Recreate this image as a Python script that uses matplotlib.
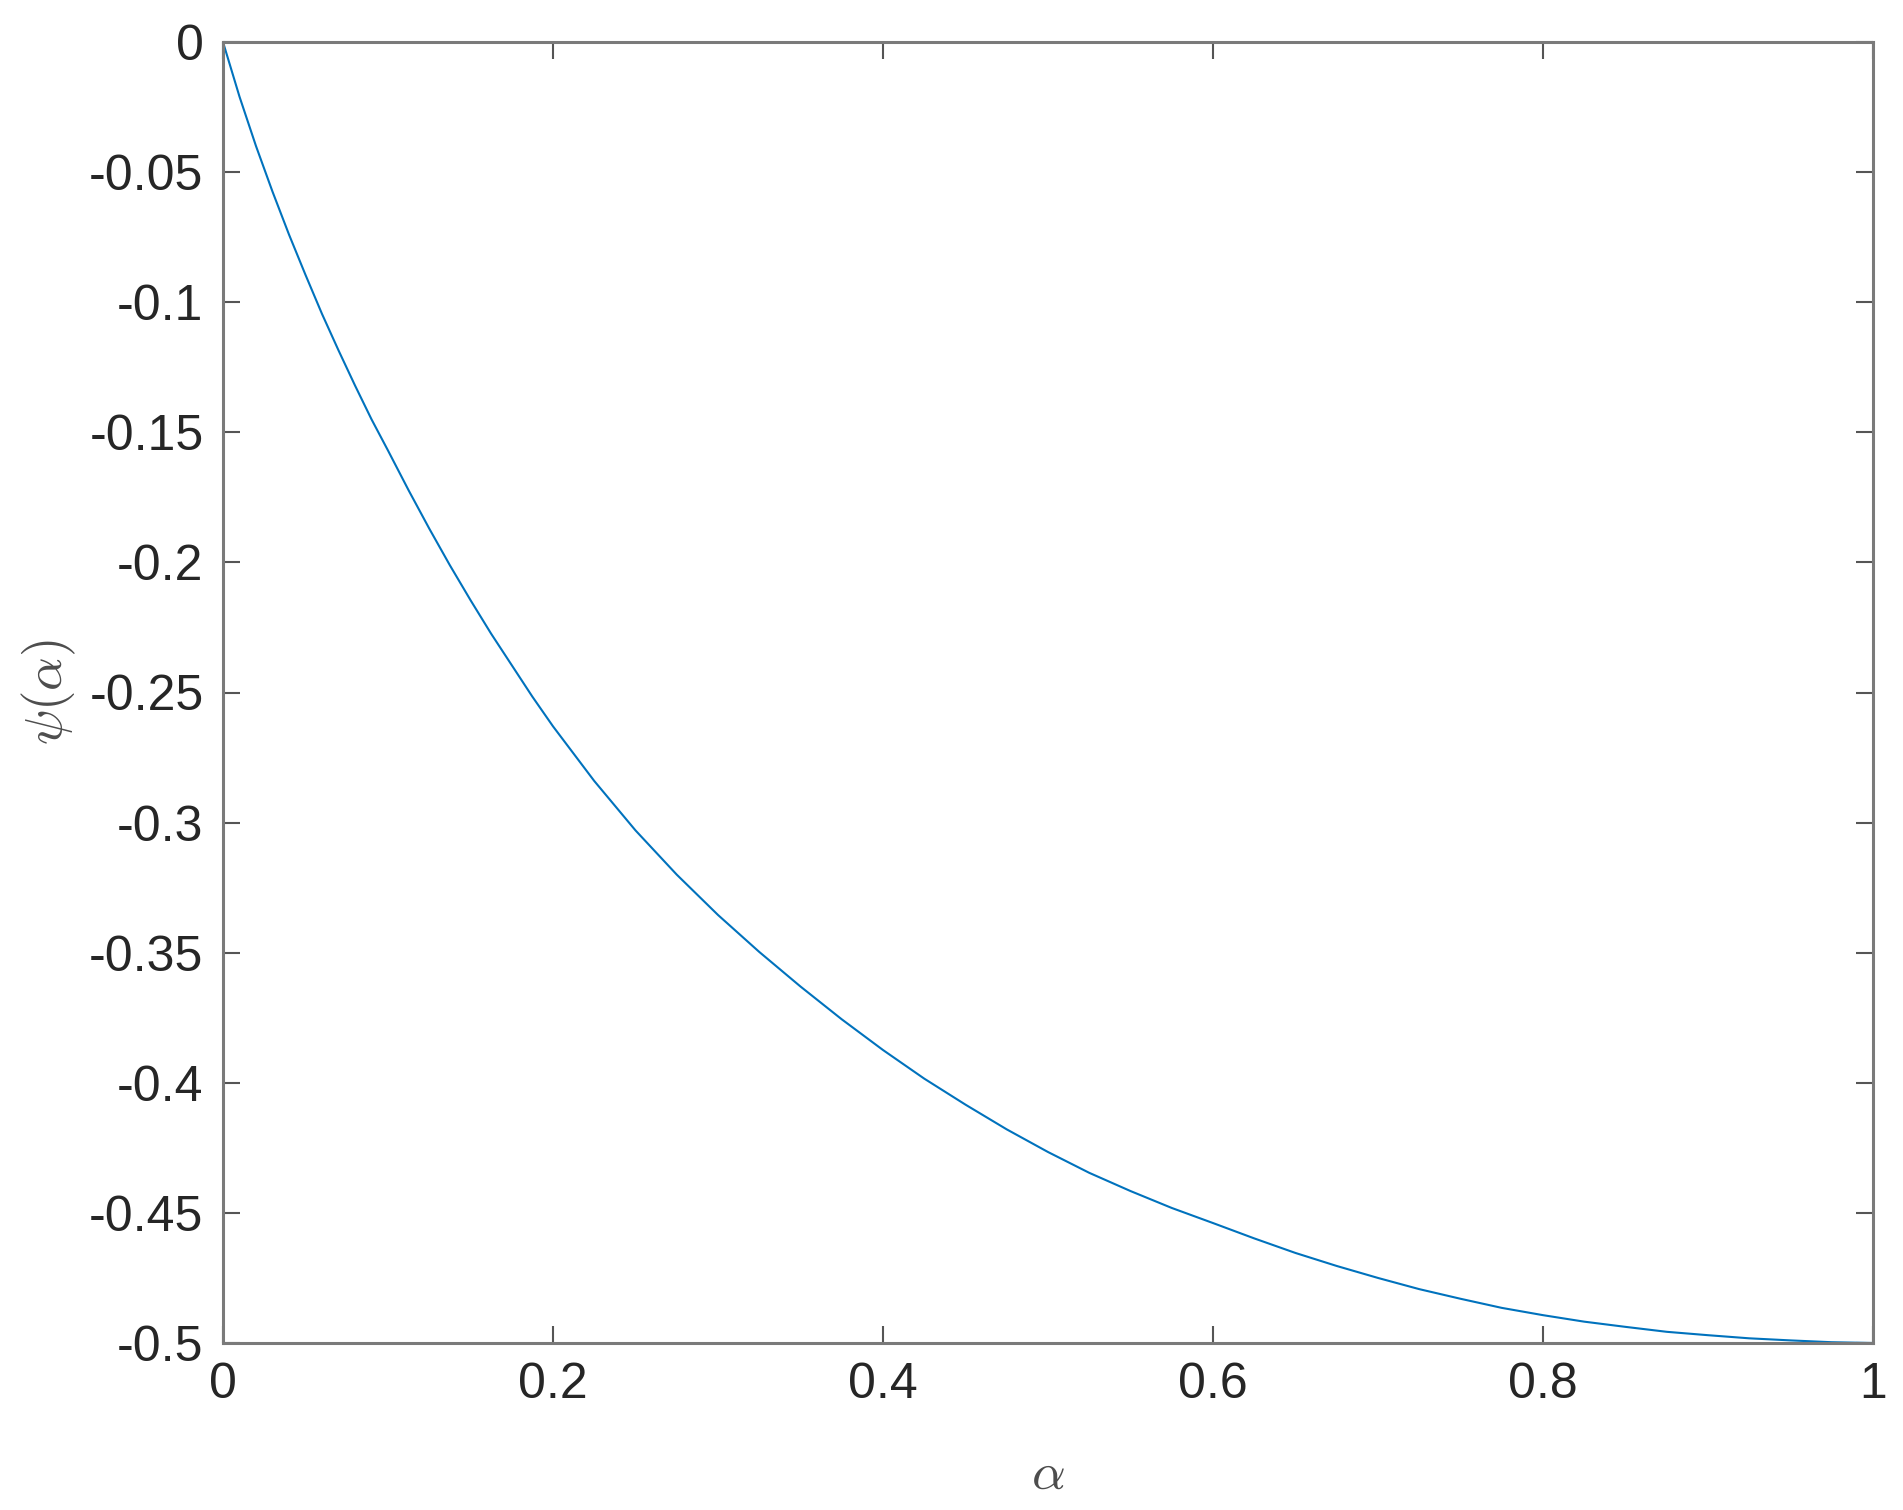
import matplotlib
matplotlib.use("Agg")
import matplotlib.pyplot as plt

# values
alpha = [0, 0.01, 0.02, 0.03, 0.04, 0.05, 0.06, 0.07, 0.08, 0.09, 0.1,
         0.1125, 0.125, 0.1375, 0.15, 0.1625, 0.175, 0.1875, 0.2,
         0.225, 0.25, 0.275, 0.3, 0.325, 0.35, 0.375, 0.4, 0.425, 0.45, 0.475, 0.5,
         0.525, 0.55, 0.575, 0.6, 0.625, 0.65, 0.675, 0.7, 0.725, 0.75, 0.775, 0.8,
         0.825, 0.85, 0.875, 0.9, 0.925, 0.95, 0.975, 1.0]
psi = [0, -0.021, -0.040, -0.0575, -0.074, -0.0895, -0.1045, -0.1185, -0.132, -0.145, -0.157,
       -0.1723, -0.187, -0.2011, -0.2145, -0.2274, -0.2395, -0.2516, -0.263,
       -0.2840, -0.3030, -0.3200, -0.3355, -0.3497, -0.3630, -0.3756, -0.3874, -0.3984, -0.4084, -0.4179, -0.4266,
       -0.4346, -0.4416, -0.4481, -0.4539, -0.4598, -0.4654, -0.4704, -0.475, -0.4793, -0.483, -0.4865, -0.4893,
       -0.4918, -0.4938, -0.4957, -0.497, -0.4982, -0.499, -0.4997, -0.5]

xticks = [0, 0.2, 0.4, 0.6, 0.8, 1]
xticklabels = ['0', '0.2', '0.4', '0.6', '0.8', '1']
yticks = [0, -0.05, -0.1, -0.15, -0.2, -0.25, -0.3, -0.35, -0.4, -0.45, -0.5]
yticklabels = ['0', '-0.05', '-0.1', '-0.15', '-0.2', '-0.25', '-0.3', '-0.35', '-0.4', '-0.45', '-0.5']

plt.rcParams['font.family'] = ['Liberation Sans', 'DejaVu Sans']
plt.rcParams['mathtext.fontset'] = 'cm'

fig = plt.figure(figsize=(19.03, 15.10), dpi=100)
ax = fig.add_axes([223 / 1903, 1 - 1343 / 1510, 1650 / 1903, 1301 / 1510])

ax.plot(alpha, psi, color='#0072BD', linewidth=1.5)

ax.set_xlim(0, 1)
ax.set_ylim(-0.5, 0)
ax.set_xticks(xticks)
ax.set_xticklabels(xticklabels)
ax.set_yticks(yticks)
ax.set_yticklabels(yticklabels)

for s in ax.spines.values():
    s.set_color('#7a7a7a')
    s.set_linewidth(2.2)

ax.tick_params(axis='both', which='major', direction='in', length=12, width=1.5,
               color='#555555', labelsize=36, labelcolor='#262626',
               top=True, right=True, pad=14)

ax.set_xlabel(r'$\alpha$', fontsize=38, color='#4d4d4d', labelpad=30)
ax.set_ylabel(r'$\psi(\alpha)$', fontsize=38, color='#4d4d4d', labelpad=8)

fig.savefig('out.png', dpi=100)
